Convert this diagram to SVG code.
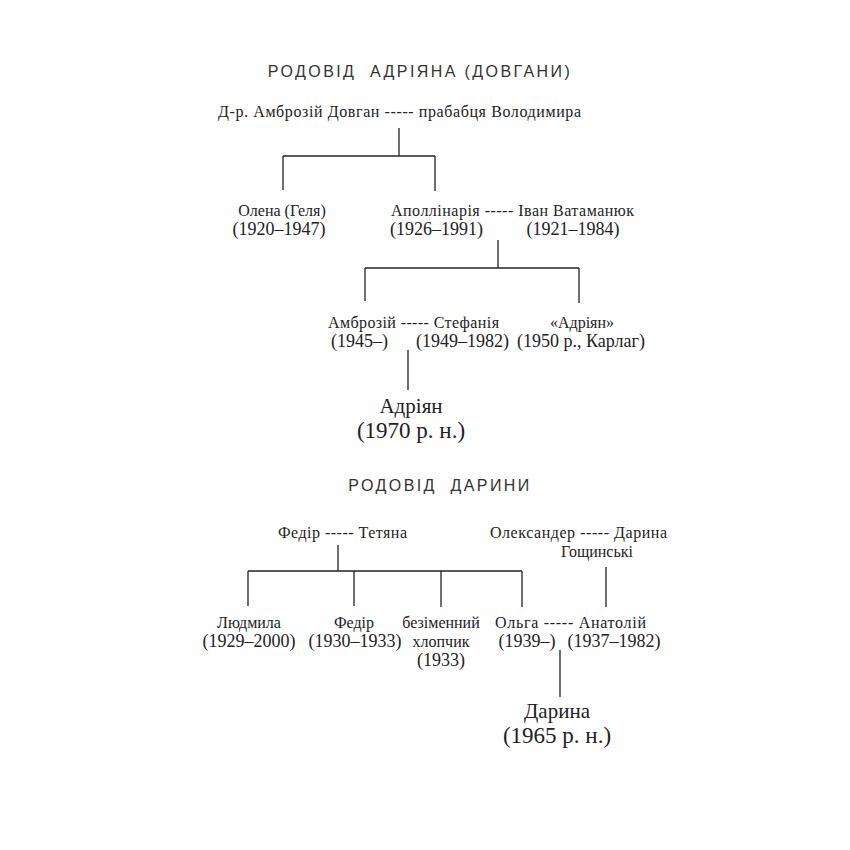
<svg xmlns="http://www.w3.org/2000/svg" width="850" height="850" viewBox="0 0 850 850">
<style>
text{font-family:"Liberation Serif","DejaVu Serif",serif;font-size:16px;fill:#222}
.y{font-size:18px}
.t{font-family:"Liberation Sans","DejaVu Sans",sans-serif;font-size:16px;letter-spacing:2.4px;fill:#333}
.b{font-size:21px}
.by{font-size:23px}
.m{text-anchor:middle}
line{stroke:#222;stroke-width:1.3}
</style>
<rect width="850" height="850" fill="#fff"/>
<text class="t m" x="420" y="77" xml:space="preserve">РОДОВІД  АДРІЯНА (ДОВГАНИ)</text>
<text class="t m" x="440" y="491" xml:space="preserve">РОДОВІД  ДАРИНИ</text>
<g id="connectors">
<line x1="399" y1="128" x2="399" y2="156"/><line x1="283" y1="156" x2="435" y2="156"/>
<line x1="283" y1="156" x2="283" y2="190"/><line x1="435" y1="156" x2="435" y2="191"/>
<line x1="498" y1="240" x2="498" y2="268"/><line x1="365" y1="268" x2="579" y2="268"/>
<line x1="365" y1="268" x2="365" y2="301"/><line x1="579" y1="268" x2="579" y2="303"/>
<line x1="408" y1="350" x2="408" y2="390"/>
<line x1="338" y1="545" x2="338" y2="571"/><line x1="248" y1="571" x2="522" y2="571"/>
<line x1="248" y1="571" x2="248" y2="606"/><line x1="354" y1="571" x2="354" y2="606"/>
<line x1="441" y1="571" x2="441" y2="607"/><line x1="522" y1="571" x2="522" y2="607"/>
<line x1="606" y1="567" x2="606" y2="607"/>
<line x1="560" y1="650" x2="560" y2="697"/>
</g>
<g id="n1"><text x="218" y="117" textLength="363">Д-р. Амброзій Довган ----- прабабця Володимира</text></g>
<g id="n2"><text class="m" x="282" y="216">Олена (Геля)</text><text class="m y" x="279" y="235">(1920–1947)</text></g>
<g id="n3"><text x="391" y="216" textLength="243">Аполлінарія ----- Іван Ватаманюк</text><text class="y" x="390" y="235">(1926–1991)</text><text class="m y" x="573" y="235">(1921–1984)</text></g>
<g id="n4"><text x="328" y="328" textLength="171">Амброзій ----- Стефанія</text><text class="y" x="331" y="347">(1945–)</text><text class="y" x="416" y="347">(1949–1982)</text></g>
<g id="n5"><text class="m" x="582" y="328">«Адріян»</text><text class="y" x="517" y="347" textLength="128">(1950 р., Карлаг)</text></g>
<g id="n6"><text class="m b" x="411" y="413">Адріян</text><text class="m by" x="411" y="438">(1970 р. н.)</text></g>
<g id="n7"><text x="278" y="538" textLength="129">Федір ----- Тетяна</text></g>
<g id="n8"><text x="490" y="538" textLength="177">Олександер ----- Дарина</text><text class="m" x="597" y="557">Гощинські</text></g>
<g id="n9"><text class="m" x="249" y="628">Людмила</text><text class="m y" x="249" y="647">(1929–2000)</text></g>
<g id="n10"><text class="m" x="354" y="628">Федір</text><text class="m y" x="355" y="647">(1930–1933)</text></g>
<g id="n11"><text class="m" x="441" y="628">безіменний</text><text class="m" x="441" y="647">хлопчик</text><text class="m y" x="441" y="666">(1933)</text></g>
<g id="n12"><text x="495" y="628" textLength="151">Ольга ----- Анатолій</text><text class="m y" x="527" y="647">(1939–)</text><text class="m y" x="614" y="647">(1937–1982)</text></g>
<g id="n13"><text class="m b" x="557" y="718">Дарина</text><text class="m by" x="557" y="743">(1965 р. н.)</text></g>
</svg>
